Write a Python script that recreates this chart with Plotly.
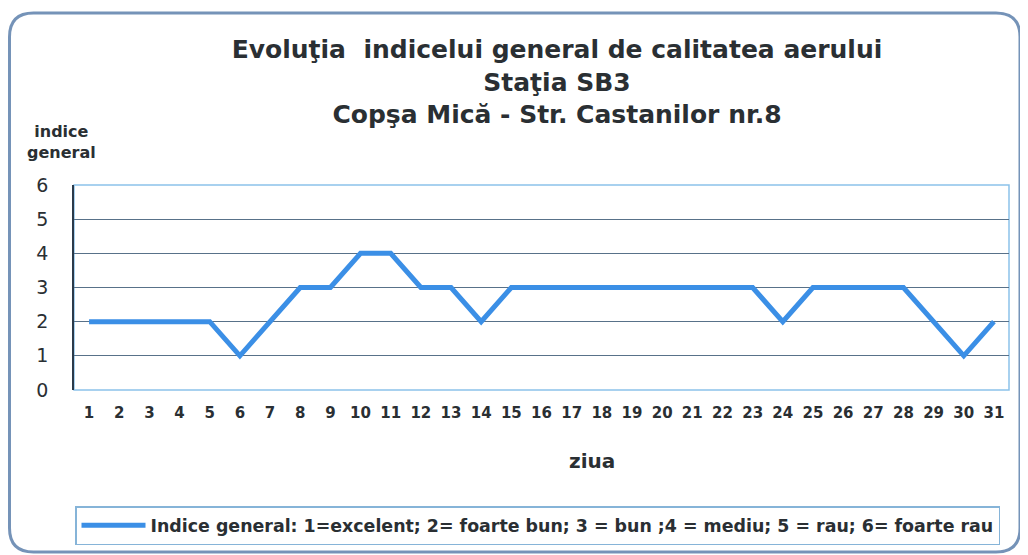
import plotly.graph_objects as go

days = [str(d) for d in range(1, 32)]
index_values = [2, 2, 2, 2, 2, 1, 2, 3, 3, 4, 4, 3, 3, 2, 3, 3, 3, 3, 3, 3, 3, 3, 3, 2, 3, 3, 3, 3, 2, 1, 2]
y_ticks = [0, 1, 2, 3, 4, 5, 6]
series_name = "Indice general: 1=excelent; 2= foarte bun; 3 = bun ;4 = mediu; 5 = rau; 6= foarte rau"
title_text = "Evoluţia  indicelui general de calitatea aerului<br>Staţia SB3<br>Copşa Mică - Str. Castanilor nr.8"

W, H = 1028, 555
OFF = 8  # page offset of the figure (body margin)
# plot area in page pixels
PL, PR, PT, PB = 74, 1009, 185, 390
PW, PH = PR - PL, PB - PT

def px(X):
    return (X - PL) / PW

def py(Y):
    return (PB - Y) / PH

FONT = "DejaVu Sans, Verdana, sans-serif"
TXT = "#2a2f33"

fig = go.Figure()
fig.add_trace(go.Scatter(
    x=days, y=index_values, mode="lines", name=series_name,
    line=dict(color="#3b8fe6", width=5),
))

# outer rounded frame (page coords)
x0, y0, x1, y1, r = 9.5, 13, 1020, 552, 24
path = (f"M {px(x0+r)},{py(y0)} L {px(x1-r)},{py(y0)} Q {px(x1)},{py(y0)} {px(x1)},{py(y0+r)} "
        f"L {px(x1)},{py(y1-r)} Q {px(x1)},{py(y1)} {px(x1-r)},{py(y1)} "
        f"L {px(x0+r)},{py(y1)} Q {px(x0)},{py(y1)} {px(x0)},{py(y1-r)} "
        f"L {px(x0)},{py(y0+r)} Q {px(x0)},{py(y0)} {px(x0+r)},{py(y0)} Z")
shapes = [
    dict(type="path", xref="paper", yref="paper", path=path,
         line=dict(color="#7593b8", width=3), layer="below"),
    dict(type="rect", xref="paper", yref="paper", x0=0, y0=0, x1=1, y1=1,
         line=dict(color="#8cc2ea", width=1.5), layer="below"),
]

fig.update_layout(
    width=W, height=H,
    margin=dict(l=PL - OFF, r=W - (PR - OFF), t=PT - OFF, b=H - (PB - OFF)),
    paper_bgcolor="white", plot_bgcolor="white",
    font=dict(family=FONT, color=TXT),
    title=dict(text=title_text,
               x=(557 - OFF) / W, xanchor="center", y=1 - (58 - OFF) / H, yanchor="top",
               font=dict(size=25, family=FONT, color=TXT, weight="bold")),
    xaxis=dict(type="category", range=[-0.5, 30.5],
               tickfont=dict(size=15, weight="bold", color=TXT),
               showgrid=False, showline=False, zeroline=False, ticks="", ticklabelstandoff=12),
    yaxis=dict(range=[0, 6], tickvals=y_ticks, tickfont=dict(size=19, color=TXT),
               showgrid=True, gridcolor="#587189", gridwidth=1, zeroline=False,
               showline=True, linecolor="#2b3a4a", linewidth=1.5, ticks="", ticklabelstandoff=20),
    showlegend=True,
    legend=dict(orientation="h", x=px(75), xanchor="left", y=py(506), yanchor="top",
                bordercolor="#86b4d8", borderwidth=1.5, bgcolor="white", itemwidth=64,
                font=dict(size=17.4, weight="bold", color=TXT)),
    shapes=shapes,
    annotations=[
        dict(text="indice<br>general", xref="paper", yref="paper", x=px(61), y=py(142),
             xanchor="center", yanchor="middle", showarrow=False,
             font=dict(size=16, weight="bold", color=TXT)),
        dict(text="ziua", xref="paper", yref="paper", x=px(592), y=py(461),
             xanchor="center", yanchor="middle", showarrow=False,
             font=dict(size=20, weight="bold", color=TXT)),
    ],
)

fig.write_html("out.html")
